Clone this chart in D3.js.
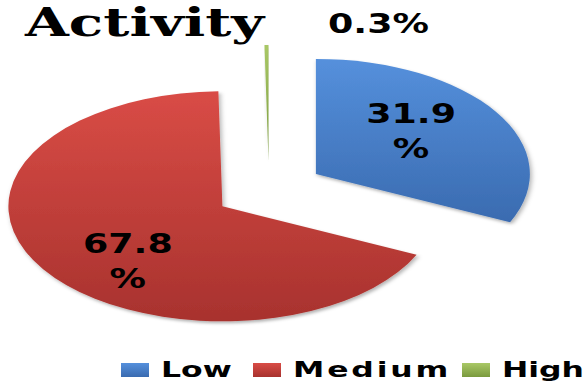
<!DOCTYPE html>
<html>
<head>
<meta charset="utf-8">
<script src="https://cdn.jsdelivr.net/npm/d3@7"></script>
<style>
  html, body { margin: 0; padding: 0; background: #fff; }
  svg { display: block; }
</style>
</head>
<body>
<svg id="chart" width="587" height="381"></svg>
<script>
// Activity levels, share of respondents (%)
const categories = ["Low", "Medium", "High"];
const shares = [31.9, 67.8, 0.3];
const chartTitle = "Activity";

const svg = d3.select("#chart");

// Elliptical (flattened) pie geometry
const rx = 214, ry = 115;
const cx = 269, cy = 190;
const explode = 0.26;      // offset of each slice along its mid-angle, as a fraction of the radius
const textStretch = 1.4;   // horizontal stretch applied to all text

const colorLight = d3.scaleOrdinal().domain(categories).range(["#5590dc", "#d94c46", "#a9c866"]);
const colorDark = d3.scaleOrdinal().domain(categories).range(["#3a6bb0", "#a8322e", "#7a9a3e"]);

const pie = d3.pie().sort(null).value(d => d.value).startAngle(0).endAngle(2 * Math.PI);
const slices = pie(categories.map((c, i) => ({ category: c, value: shares[i] })));
const arc = d3.arc().innerRadius(0).outerRadius(ry);

const defs = svg.append("defs");
categories.forEach((c, i) => {
  const g = defs.append("linearGradient")
    .attr("id", "grad" + i)
    .attr("x1", 0).attr("y1", 0).attr("x2", 0).attr("y2", 1);
  g.append("stop").attr("offset", "0%").attr("stop-color", colorLight(c));
  g.append("stop").attr("offset", "100%").attr("stop-color", colorDark(c));
});
const shadow = defs.append("filter").attr("id", "shadow")
  .attr("x", "-10%").attr("y", "-10%").attr("width", "120%").attr("height", "130%");
shadow.append("feDropShadow")
  .attr("dx", 1).attr("dy", 2).attr("stdDeviation", 1.5)
  .attr("flood-color", "#000").attr("flood-opacity", 0.3);

const mid = d => (d.startAngle + d.endAngle) / 2;
const sliceCenter = d => [
  cx + explode * Math.sin(mid(d)) * rx,
  cy - explode * Math.cos(mid(d)) * ry
];

// Slices
svg.append("g").selectAll("path")
  .data(slices)
  .join("path")
  .attr("d", arc)
  .attr("fill", (d, i) => `url(#grad${i})`)
  .attr("filter", "url(#shadow)")
  .attr("transform", d => {
    const [x, y] = sliceCenter(d);
    return `translate(${x},${y}) scale(${rx / ry},1)`;
  });

// Value labels
const labelFont = "'DejaVu Sans', Verdana, sans-serif";
const labelNudge = { Low: [-4, -9], Medium: [4, 20] };
slices.forEach(d => {
  const [sx, sy] = sliceCenter(d);
  const cat = d.data.category;
  if (d.data.value >= 5) {
    const lx = sx + 0.55 * Math.sin(mid(d)) * rx + labelNudge[cat][0];
    const ly = sy - 0.55 * Math.cos(mid(d)) * ry + labelNudge[cat][1];
    const t = svg.append("text")
      .attr("transform", `translate(${lx},${ly}) scale(${textStretch},1)`)
      .attr("text-anchor", "middle")
      .attr("font-family", labelFont)
      .attr("font-weight", "bold")
      .attr("font-size", 26)
      .attr("fill", "#000");
    t.append("tspan").attr("x", 0).attr("y", -8).text(d.data.value.toFixed(1));
    t.append("tspan").attr("x", 0).attr("y", 27).text("%");
  } else {
    // small slice: label sits outside, above-right of the slice tip
    const tipX = sx;
    const tipY = sy - ry;
    svg.append("text")
      .attr("transform", `translate(${tipX + 110},${tipY - 12}) scale(${textStretch},1)`)
      .attr("text-anchor", "middle")
      .attr("font-family", labelFont)
      .attr("font-weight", "bold")
      .attr("font-size", 26)
      .attr("fill", "#000")
      .text(d.data.value.toFixed(1) + "%");
  }
});

// Title
svg.append("text")
  .attr("transform", `translate(25,36) scale(1.45,1)`)
  .attr("font-family", "'DejaVu Serif', 'Liberation Serif', serif")
  .attr("font-weight", "bold")
  .attr("font-size", 39)
  .attr("fill", "#000")
  .text(chartTitle);

// Legend
const legendX = [121, 253, 462];
const legend = svg.append("g").attr("transform", "translate(0,377)");
categories.forEach((c, i) => {
  const item = legend.append("g").attr("transform", `translate(${legendX[i]},0)`);
  item.append("rect")
    .attr("x", 0).attr("y", -14)
    .attr("width", 28).attr("height", 14)
    .attr("fill", `url(#grad${i})`);
  item.append("text")
    .attr("transform", `translate(40,0) scale(1.43,1)`)
    .attr("font-family", labelFont)
    .attr("font-weight", "bold")
    .attr("font-size", 22)
    .attr("letter-spacing", c === "Medium" ? 2 : 0)
    .attr("fill", "#000")
    .text(c);
});
</script>
</body>
</html>
